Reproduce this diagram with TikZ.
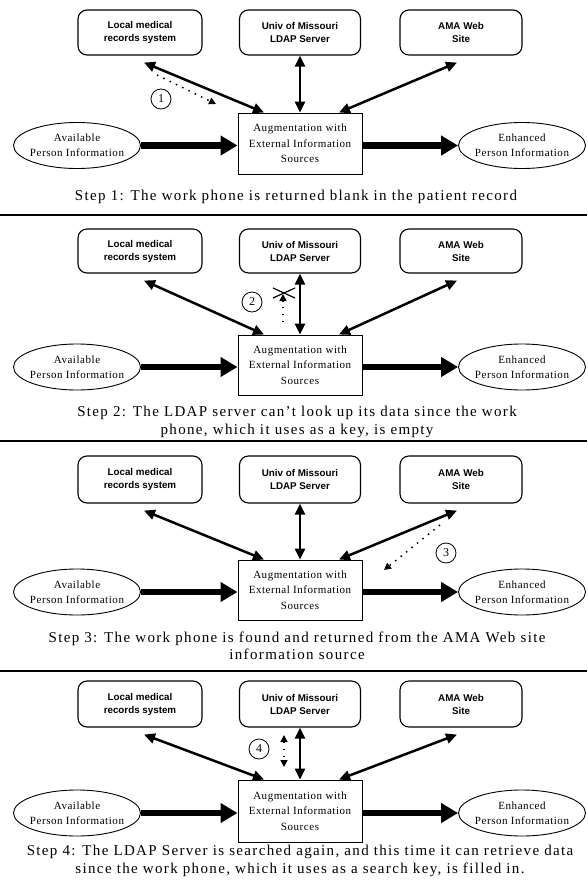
\documentclass[tikz,border=0pt]{standalone}
\usepackage{fontspec}
\setmainfont{Liberation Serif}
\setsansfont{Liberation Sans}
\usetikzlibrary{arrows.meta,shapes.geometric}
\tikzset{
  srcbox/.style={draw, line width=1.1pt, rounded corners=9pt, align=center, inner sep=0pt,
    font=\sffamily\bfseries\fontsize{9.8}{13}\selectfont},
  ctrbox/.style={draw, line width=1pt, align=center, inner sep=0pt, minimum width=124pt,
    font=\fontsize{11}{15.5}\selectfont\addfontfeatures{LetterSpace=5}},
  ellbox/.style={ellipse, draw, line width=0.9pt, inner sep=0pt, minimum width=127pt, minimum height=46pt},
  elltext/.style={align=center, inner sep=0pt, font=\fontsize{11}{15}\selectfont\addfontfeatures{LetterSpace=5}},
  captext/.style={align=center, inner sep=0pt, font=\fontsize{15}{17.5}\selectfont\addfontfeatures{LetterSpace=9}},
  bigarrow/.style={line width=6.5pt, -{Triangle[length=17pt,width=19pt]}},
  dblarrow/.style={line width=2.5pt, {Triangle[length=11pt,width=10pt]}-{Triangle[length=11pt,width=10pt]}},
  dotline/.style={line width=1.5pt, dash pattern=on 1.5pt off 5.5pt},
  dotarrow/.style={dotline, -{Triangle[length=7pt,width=7pt]}},
  dotdbl/.style={dotline, {Triangle[length=7pt,width=7pt]}-{Triangle[length=7pt,width=7pt]}},
  numcirc/.style={circle, draw, line width=0.8pt, minimum size=20pt, inner sep=0pt, font=\fontsize{12}{12}\selectfont},
  xmark/.style={line width=1.2pt},
  rulestyle/.style={line width=1.2pt}
}
% #1 id, #2 top of source boxes, #3 bottom of source boxes, #4 top of centre box, #5 bottom of centre box
\newcommand\drawpanel[5]{%
  \node[srcbox, minimum width=124pt, minimum height={#3-#2}] (#1loc) at (140,{(#2+#3)/2}) {Local medical\\records system};
  \node[srcbox, minimum width=121pt, minimum height={#3-#2}] (#1univ) at (300,{(#2+#3)/2}) {Univ of Missouri\\LDAP Server};
  \node[srcbox, minimum width=122pt, minimum height={#3-#2}] (#1ama) at (461,{(#2+#3)/2}) {AMA Web\\Site};
  \node[ctrbox, minimum height={#5-#4}] (#1ctr) at (300,{(#4+#5)/2}) {Augmentation with\\External Information\\Sources};
  \node[ellbox] (#1in) at (77,{(#4+#5)/2+2}) {};
  \node[elltext] (#1intxt) at (#1in.center) {Available\\Person Information};
  \node[ellbox] (#1out) at (522,{(#4+#5)/2+2}) {};
  \node[elltext] (#1outtxt) at (#1out.center) {Enhanced\\Person Information};
  \draw[bigarrow] (#1in.east) -- (#1in.east -| #1ctr.west);
  \draw[bigarrow] (#1out.west -| #1ctr.east) -- (#1out.west);
  \draw[dblarrow] ([shift={(4,7)}]#1loc.south) -- ([xshift=-36pt]#1ctr.north);
  \draw[dblarrow] (#1univ.south) -- (#1ctr.north);
  \draw[dblarrow] ([shift={(-4,7)}]#1ama.south) -- ([xshift=39pt]#1ctr.north);
}
\begin{document}
\begin{tikzpicture}[x=1pt,y=-1pt]
\fill[white] (0,0) rectangle (587,881);
\useasboundingbox (0,0) rectangle (587,881);

% Panel 1
\drawpanel{a}{10}{55}{113}{174}
\coordinate (d1s) at (157,75);
\coordinate (d1e) at (216,104);
\draw[dotarrow] (d1s) -- (d1e);
\node[numcirc] (c1) at (161,99) {1};
\node[captext] (cap1) at (296,197) {Step 1: The work phone is returned blank in the patient record};
\coordinate (r1a) at (0,215); \coordinate (r1b) at (587,215);
\draw[rulestyle] (r1a) -- (r1b);

% Panel 2
\drawpanel{b}{229}{273}{335}{395}
\node[numcirc] (c2) at (252,302) {2};
\coordinate (x2c) at (284,293);
\draw[xmark] ([shift={(-11,-5)}]x2c) -- ([shift={(11,5)}]x2c);
\draw[xmark] ([shift={(-11,5)}]x2c) -- ([shift={(11,-5)}]x2c);
\coordinate (d2s) at (283,322);
\coordinate (d2e) at (283,294);
\draw[dotarrow] (d2s) -- (d2e);
\node[captext] (cap2) at (297,422) {Step 2: The LDAP server can't look up its data since the work\\phone, which it uses as a key, is empty};
\coordinate (r2a) at (0,441); \coordinate (r2b) at (587,441);
\draw[rulestyle] (r2a) -- (r2b);

% Panel 3
\drawpanel{c}{456}{503}{560}{620}
\coordinate (d3s) at (440,525);
\coordinate (d3e) at (384,570);
\draw[dotarrow] (d3s) -- (d3e);
\node[numcirc] (c3) at (446,553) {3};
\node[captext] (cap3) at (297,646) {Step 3: The work phone is found and returned from the AMA Web site\\information source};
\coordinate (r3a) at (0,671); \coordinate (r3b) at (587,671);
\draw[rulestyle] (r3a) -- (r3b);

% Panel 4
\drawpanel{d}{681}{727}{780}{842}
\coordinate (d4a) at (284,735);
\coordinate (d4b) at (284,767);
\draw[dotdbl] (d4a) -- (d4b);
\node[numcirc] (c4) at (259,749) {4};
\node[captext] (cap4) at (300,861) {Step 4: The LDAP Server is searched again, and this time it can retrieve data\\since the work phone, which it uses as a search key, is filled in.};
\end{tikzpicture}
\end{document}
